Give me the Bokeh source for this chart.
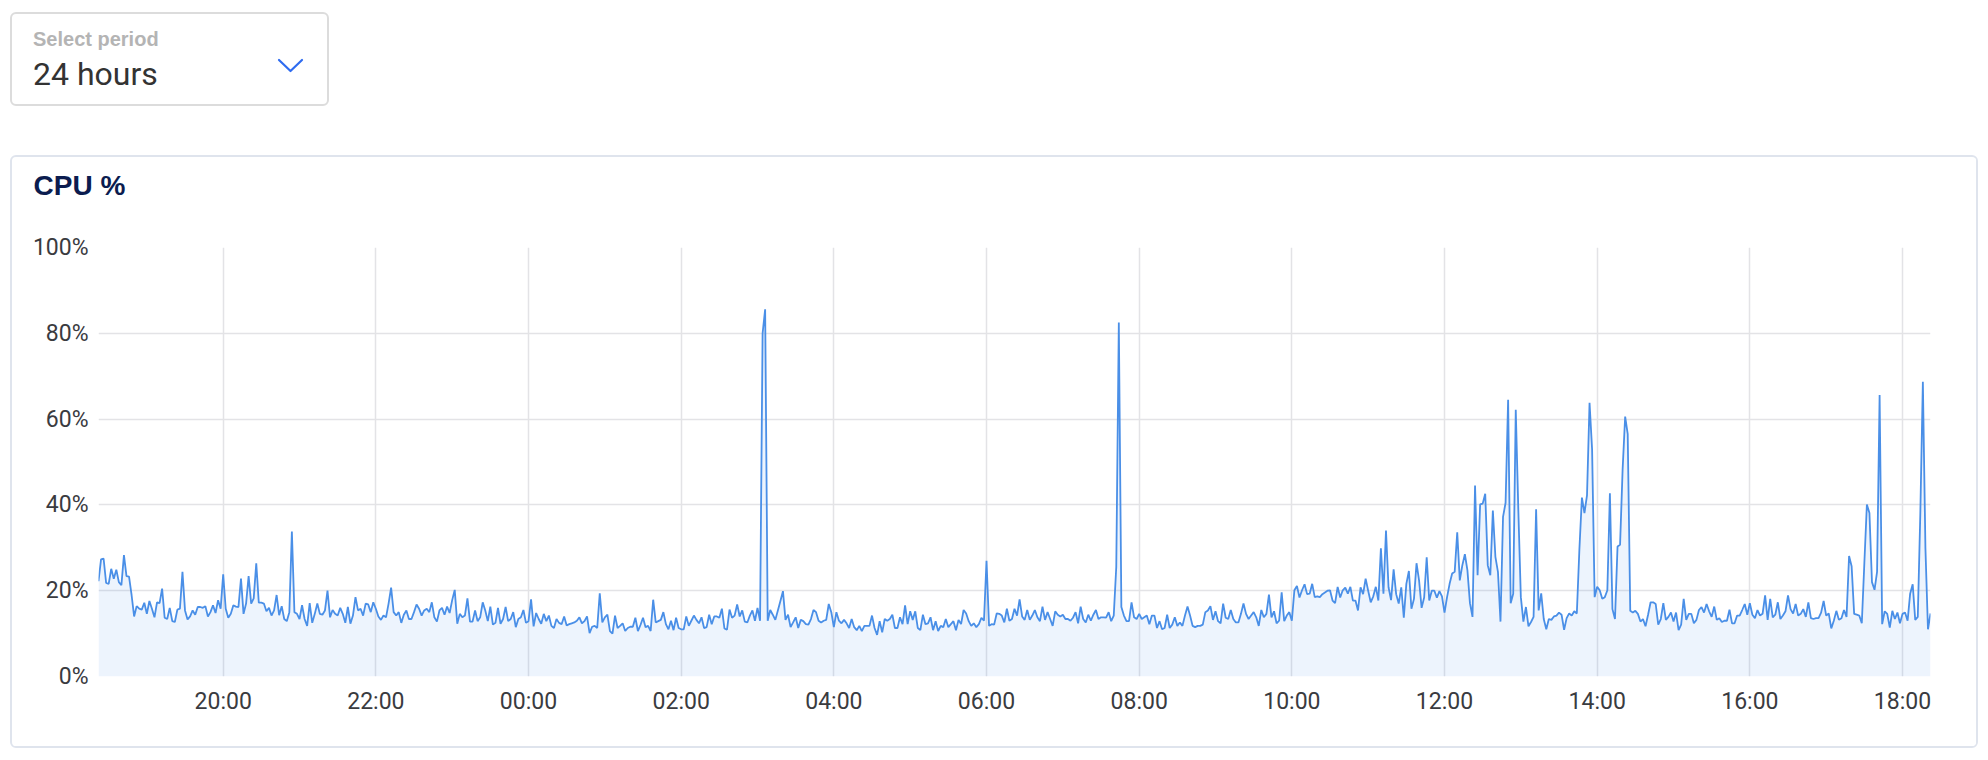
from bokeh.plotting import figure
from bokeh.models import Div, FixedTicker, ColumnDataSource, Range1d, Title
from bokeh.layouts import column
from bokeh.embed import file_html
from bokeh.resources import INLINE

# ---------------- data (CPU %, one sample every 2 minutes) ----------------
START_MIN = 22      # first sample: 18:22 (minutes after 18:00)
STEP_MIN = 2

cpu_1822_1958 = [22.2, 27.3, 27.5, 21.8, 21.6, 25.1, 22.8, 24.9, 22.0, 21.3,
                 28.3, 23.4, 23.3, 19.0, 14.0, 16.4, 15.8, 15.6, 17.2, 14.6,
                 17.6, 15.8, 13.8, 17.3, 17.1, 20.5, 13.7, 13.4, 16.0, 12.9,
                 12.7, 15.6, 15.8, 24.4, 15.4, 13.3, 14.0, 15.4, 14.4, 16.2,
                 16.2, 16.0, 16.4, 14.0, 15.0, 16.6, 14.8, 17.8, 15.8]
cpu_2000_2158 = [23.8, 15.8, 13.7, 14.6, 16.6, 16.3, 16.2, 22.8, 14.6, 17.0,
                 23.4, 17.0, 18.2, 26.4, 17.2, 17.2, 17.0, 15.2, 16.0, 14.2,
                 15.4, 19.0, 14.3, 16.4, 13.4, 12.9, 15.0, 33.8, 15.0, 14.6,
                 13.4, 16.6, 13.4, 11.8, 17.1, 12.5, 14.6, 17.0, 14.6, 14.4,
                 15.4, 20.0, 13.8, 15.5, 14.6, 14.2, 16.0, 14.6, 12.5, 16.2,
                 12.3, 14.2, 18.5, 15.4, 15.8, 14.2, 17.0, 16.8, 15.0, 17.3]
cpu_2200_2358 = [15.8, 14.0, 13.2, 14.2, 13.8, 17.0, 20.7, 15.0, 14.2, 15.0,
                 12.5, 14.4, 15.4, 13.4, 13.4, 15.0, 16.8, 15.8, 14.2, 15.4,
                 15.8, 15.0, 17.3, 13.8, 12.8, 15.4, 16.0, 14.4, 16.3, 14.8,
                 17.8, 20.2, 12.3, 14.6, 13.8, 14.2, 18.2, 12.8, 12.8, 15.4,
                 12.9, 13.8, 17.3, 15.4, 12.9, 16.3, 12.1, 12.5, 16.0, 12.3,
                 13.4, 16.2, 12.9, 13.4, 15.0, 11.5, 13.4, 13.8, 15.5, 12.5]
cpu_0000_0158 = [12.9, 18.0, 11.7, 14.8, 13.4, 12.3, 14.6, 12.9, 14.2, 11.8,
                 11.3, 13.4, 12.5, 12.2, 14.0, 11.9, 12.2, 12.4, 12.6, 13.0,
                 13.8, 12.4, 12.9, 14.0, 10.1, 11.6, 11.8, 11.3, 19.4, 12.6,
                 13.8, 14.4, 10.6, 10.0, 14.2, 11.3, 11.8, 12.4, 10.6, 11.3,
                 11.6, 11.6, 13.7, 10.6, 12.0, 13.7, 11.5, 11.8, 10.6, 17.9,
                 12.6, 12.9, 13.2, 15.0, 12.2, 11.0, 13.0, 10.8, 13.7, 11.3]
cpu_0200_0358 = [11.0, 11.0, 14.0, 11.8, 13.0, 14.2, 13.2, 12.4, 13.8, 11.3,
                 11.5, 14.4, 12.2, 14.0, 14.0, 13.7, 15.8, 11.2, 10.9, 15.6,
                 13.7, 14.2, 16.8, 14.0, 15.4, 12.8, 12.6, 14.2, 15.4, 13.0,
                 16.0, 13.0, 80.0, 85.6, 13.0, 15.5, 14.4, 13.2, 15.4, 17.6,
                 19.9, 13.2, 14.4, 11.5, 12.6, 13.8, 11.3, 13.2, 12.9, 12.2,
                 12.1, 13.4, 15.5, 15.0, 13.0, 12.6, 13.0, 13.2, 16.9, 15.0]
cpu_0400_0558 = [11.5, 15.0, 13.0, 12.4, 13.2, 12.4, 11.3, 13.4, 11.5, 10.8,
                 11.8, 10.6, 11.8, 11.8, 11.8, 14.2, 11.3, 9.7, 12.9, 10.3,
                 13.4, 13.0, 13.4, 14.4, 11.3, 11.3, 13.8, 12.2, 16.6, 12.2,
                 15.2, 13.2, 15.2, 11.3, 10.8, 14.4, 12.2, 12.4, 13.8, 10.8,
                 12.9, 10.6, 11.8, 11.5, 13.4, 11.5, 12.2, 12.9, 10.8, 13.2,
                 12.2, 15.5, 14.7, 12.9, 11.8, 12.4, 11.5, 12.2, 13.7, 13.0]
cpu_0600_0758 = [27.0, 11.8, 12.2, 12.1, 14.7, 14.6, 14.2, 12.6, 15.8, 13.0,
                 13.4, 15.8, 14.2, 18.0, 14.0, 13.2, 15.5, 13.2, 14.2, 15.5,
                 13.8, 12.9, 16.3, 13.2, 15.0, 13.4, 11.8, 15.2, 14.4, 14.0,
                 14.4, 13.4, 13.4, 13.0, 13.7, 15.0, 12.4, 16.3, 13.4, 12.6,
                 14.4, 13.0, 14.4, 15.5, 13.4, 13.8, 13.8, 13.7, 15.0, 12.9,
                 14.2, 25.6, 82.5, 16.2, 14.2, 12.9, 12.9, 17.3, 13.8, 13.4]
cpu_0800_0958 = [14.6, 13.4, 13.8, 14.2, 12.2, 14.2, 14.2, 11.3, 12.9, 11.0,
                 11.3, 14.4, 11.3, 12.1, 13.8, 11.8, 12.6, 11.8, 14.2, 16.3,
                 14.2, 11.8, 11.5, 11.8, 11.8, 12.1, 15.0, 15.4, 16.4, 13.2,
                 15.2, 12.9, 12.4, 17.0, 13.7, 13.4, 15.5, 13.4, 12.6, 12.6,
                 14.6, 17.0, 14.6, 13.4, 14.2, 15.0, 13.8, 11.8, 15.5, 13.8,
                 14.6, 19.1, 13.8, 15.2, 12.4, 13.0, 19.6, 12.9, 14.2, 15.0]
cpu_1000_1158 = [13.0, 20.1, 21.1, 18.4, 20.1, 21.5, 19.2, 19.3, 21.6, 18.5,
                 18.7, 18.5, 19.2, 19.6, 20.0, 20.1, 17.7, 17.1, 20.9, 18.4,
                 20.1, 20.7, 19.3, 20.9, 17.7, 17.7, 15.4, 20.8, 19.2, 22.8,
                 20.0, 17.3, 18.7, 20.9, 17.7, 29.9, 19.3, 34.0, 20.8, 17.8,
                 25.0, 19.2, 17.0, 20.8, 13.7, 21.6, 24.6, 15.8, 18.1, 26.4,
                 22.4, 16.0, 18.4, 27.8, 17.7, 20.0, 20.0, 18.4, 19.9, 18.7]
cpu_1200_1358 = [14.9, 18.5, 21.6, 24.0, 24.4, 33.6, 22.4, 25.9, 28.5, 24.8,
                 17.1, 13.9, 44.5, 23.6, 40.1, 40.3, 42.6, 25.9, 23.6, 38.7,
                 27.9, 24.4, 12.8, 37.2, 40.5, 64.5, 17.1, 19.3, 62.2, 39.0,
                 18.5, 12.8, 16.2, 11.7, 12.7, 13.9, 39.0, 15.4, 19.4, 13.4,
                 11.0, 13.4, 13.2, 14.0, 14.2, 14.9, 14.4, 10.9, 13.6, 14.7,
                 14.2, 15.2, 14.7, 29.5, 41.7, 38.1, 42.2, 63.8, 53.0, 18.5]
cpu_1400_1558 = [20.9, 20.1, 18.1, 18.5, 20.1, 42.7, 15.7, 13.4, 30.3, 30.7,
                 48.3, 60.6, 56.5, 15.3, 14.9, 15.3, 14.6, 12.8, 13.4, 11.7,
                 14.4, 17.3, 17.3, 16.9, 12.1, 13.4, 17.1, 13.2, 13.9, 14.9,
                 12.8, 14.9, 10.8, 12.1, 18.1, 13.2, 14.6, 14.6, 12.4, 13.2,
                 15.5, 16.2, 14.9, 16.9, 15.2, 13.9, 16.3, 13.2, 13.6, 12.7,
                 13.0, 13.0, 15.6, 12.4, 12.4, 14.2, 14.2, 15.5, 16.9, 14.4]
cpu_1600_1758 = [17.1, 14.4, 13.6, 15.5, 14.2, 14.6, 18.9, 13.2, 18.1, 13.8,
                 14.4, 17.3, 13.4, 14.2, 15.2, 18.9, 15.7, 14.7, 16.9, 14.2,
                 14.6, 15.7, 13.9, 17.3, 13.6, 13.4, 13.6, 13.6, 14.9, 17.6,
                 14.2, 14.7, 11.2, 13.0, 15.3, 13.2, 13.6, 15.5, 13.9, 28.1,
                 25.7, 14.6, 14.4, 14.2, 12.4, 26.4, 40.1, 38.1, 22.0, 20.2,
                 24.4, 65.6, 12.2, 15.2, 14.6, 11.4, 15.3, 13.4, 14.9, 12.4]
cpu_1800_1822 = [14.6, 14.9, 13.0, 19.3, 21.5, 13.2, 13.9, 38.0, 68.7, 30.0,
                 11.0, 14.7]

x_tick_minutes = [120, 240, 360, 480, 600, 720, 840, 960, 1080, 1200, 1320, 1440]
x_tick_labels = ["20:00", "22:00", "00:00", "02:00", "04:00", "06:00",
                 "08:00", "10:00", "12:00", "14:00", "16:00", "18:00"]
y_ticks = [0, 20, 40, 60, 80, 100]
y_tick_labels = ["0%", "20%", "40%", "60%", "80%", "100%"]

chart_title = "CPU %"
period_label = "Select period"
period_value = "24 hours"

# ---------------- build ----------------
cpu = (cpu_1822_1958 + cpu_2000_2158 + cpu_2200_2358 + cpu_0000_0158 +
       cpu_0200_0358 + cpu_0400_0558 + cpu_0600_0758 + cpu_0800_0958 +
       cpu_1000_1158 + cpu_1200_1358 + cpu_1400_1558 + cpu_1600_1758 +
       cpu_1800_1822)
minutes = [START_MIN + STEP_MIN * i for i in range(len(cpu))]
src = ColumnDataSource(dict(t=minutes, cpu=cpu))

LINE = "#4a8fe7"
CARD_W, CARD_H = 1968, 593

p = figure(width=CARD_W, height=CARD_H, output_backend="svg", toolbar_location=None,
           x_range=Range1d(minutes[0], minutes[-1]), y_range=Range1d(0, 100),
           min_border_left=86, min_border_right=50, min_border_top=90,
           min_border_bottom=74)
p.outline_line_color = None
p.background_fill_color = "white"
p.border_fill_color = "white"

p.varea(x="t", y1=0, y2="cpu", source=src, fill_color=LINE, fill_alpha=0.1)
p.line(x="t", y="cpu", source=src, line_color=LINE, line_width=1.8)

xt = FixedTicker(ticks=x_tick_minutes)
yt = FixedTicker(ticks=y_ticks)
p.xaxis.ticker = xt
p.yaxis.ticker = yt
p.xgrid.ticker = xt
p.ygrid.ticker = yt
p.xaxis.major_label_overrides = {k: v for k, v in zip(x_tick_minutes, x_tick_labels)}
p.yaxis.major_label_overrides = {k: v for k, v in zip(y_ticks, y_tick_labels)}

for ax in (p.xaxis, p.yaxis):
    ax.axis_line_color = None
    ax.major_tick_line_color = None
    ax.minor_tick_line_color = None
    ax.major_tick_out = 0
    ax.major_tick_in = 0
    ax.major_label_text_font = "Roboto"
    ax.major_label_text_font_size = "23px"
    ax.major_label_text_color = "#3a3b3f"
p.yaxis.major_label_standoff = 10
p.xaxis.major_label_standoff = 11

for g in (p.xgrid, p.ygrid):
    g.grid_line_color = "#e3e3e6"
    g.grid_line_width = 1.5

# empty spacer panel between the title and the plot frame
p.add_layout(Title(text=" ", text_font_size="2px", standoff=43), "above")

p.title.text = chart_title
p.title.align = "left"
p.title.vertical_align = "bottom"
p.title.offset = -65
p.title.standoff = 0
p.title.text_font = "Liberation Sans"
p.title.text_font_style = "bold"
p.title.text_font_size = "28px"
p.title.text_color = "#0b1c4f"

p.styles = {"border": "2px solid #dfe4ed", "border-radius": "6px",
            "box-sizing": "border-box", "overflow": "hidden"}
p.margin = (49, 0, 0, 10)

div_html = f"""
<div style="position:relative;width:315px;height:90px;">
  <div style="position:absolute;left:21px;top:13px;font-family:'Liberation Sans';font-weight:700;
              font-size:20px;line-height:24px;color:#b4b4b4;white-space:nowrap;">{period_label}</div>
  <div style="position:absolute;left:21px;top:41px;font-family:Roboto;font-size:32px;
              line-height:38px;color:#333333;white-space:nowrap;">{period_value}</div>
  <svg style="position:absolute;left:265px;top:44px" width="27" height="16">
    <polyline points="2,2 13.5,13 25,2" fill="none" stroke="#2f6cf0" stroke-width="2.2"
              stroke-linecap="round" stroke-linejoin="round"/>
  </svg>
</div>
"""
sel = Div(text=div_html, width=319, height=94,
          styles={"border": "2px solid #dcdcdc", "border-radius": "6px",
                  "box-sizing": "border-box", "background": "white"})
sel.margin = (12, 0, 0, 10)

layout = column(sel, p, spacing=0)

open("out.html", "w").write(file_html(layout, INLINE))
